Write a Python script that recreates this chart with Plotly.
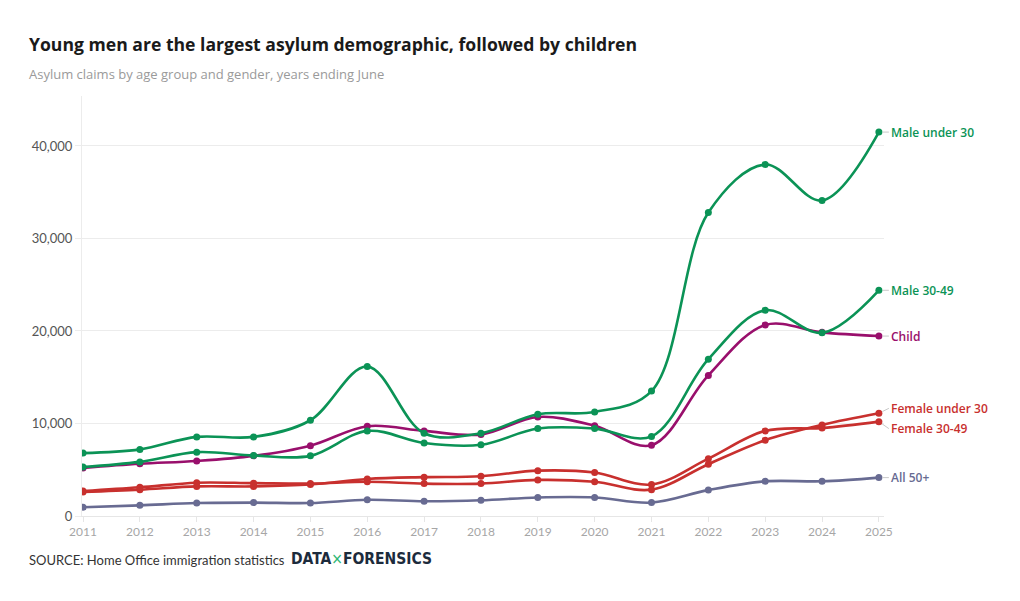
import plotly.graph_objects as go

years = list(range(2011, 2026))

male_under_30 = [6800, 7200, 8550, 8550, 10350, 16150, 8950, 8950, 11000, 11250, 13500, 32800, 38000, 34100, 41500]
male_30_49 = [5300, 5850, 6900, 6550, 6500, 9200, 7900, 7700, 9450, 9450, 8600, 16950, 22250, 19800, 24400]
child = [5200, 5650, 5950, 6500, 7600, 9700, 9200, 8800, 10700, 9750, 7650, 15200, 20650, 19850, 19450]
female_under_30 = [2700, 3100, 3600, 3550, 3500, 3700, 3500, 3500, 3900, 3700, 2850, 5600, 8200, 9850, 11100]
female_30_49 = [2600, 2850, 3200, 3200, 3400, 4000, 4200, 4300, 4900, 4700, 3400, 6200, 9200, 9500, 10200]
all_50_plus = [950, 1150, 1400, 1450, 1400, 1750, 1600, 1700, 2000, 2000, 1450, 2800, 3750, 3750, 4150]

# name, values, colour, label vertical offset (pixels, positive = down)
series = [
    ("Male under 30", male_under_30, "#0b9356", 0),
    ("Male 30-49", male_30_49, "#0b9356", 0),
    ("Child", child, "#990f6c", 0),
    ("Female under 30", female_under_30, "#c8302e", -5),
    ("Female 30-49", female_30_49, "#c8302e", 7),
    ("All 50+", all_50_plus, "#686b92", 0),
]

LATO = "Lato"
OPEN = "Open Sans"

# reference plot area (page pixels): left 82, right 884, top 96, bottom 516.5
PL, PR, PT, PB = 82, 884, 96, 516.5
PW, PH = PR - PL, PB - PT


def px(x):
    return (x - PL) / PW


def py(y):
    return (PB - y) / PH


fig = go.Figure()
for name, vals, color, _ in reversed(series):
    fig.add_trace(go.Scatter(
        x=years, y=vals, name=name, mode="lines+markers",
        line=dict(color=color, width=2.6, shape="spline", smoothing=1),
        marker=dict(color=color, size=7),
        showlegend=False, hoverinfo="x+y+name",
    ))

annotations = []
for name, vals, color, shift in series:
    annotations.append(dict(
        x=years[-1], y=vals[-1], xref="x", yref="y",
        text=name, showarrow=True, arrowhead=0, arrowwidth=1, arrowcolor="#c8c8c8",
        ax=10, ay=shift, axref="pixel", ayref="pixel", standoff=4,
        xanchor="left", yanchor="middle",
        font=dict(family=OPEN, size=12, color=color, weight=600),
    ))

annotations += [
    dict(xref="paper", yref="paper", x=px(27), y=py(44), xanchor="left", yanchor="middle",
         text="<b>Young men are the largest asylum demographic, followed by children</b>",
         showarrow=False, font=dict(family=OPEN, size=17.6, color="#1a1a1a")),
    dict(xref="paper", yref="paper", x=px(27), y=py(74), xanchor="left", yanchor="middle",
         text="Asylum claims by age group and gender, years ending June",
         showarrow=False, font=dict(family=OPEN, size=13, color="#9a9a9a")),
    dict(xref="paper", yref="paper", x=px(27), y=py(561), xanchor="left", yanchor="middle",
         text="SOURCE: Home Office immigration statistics",
         showarrow=False, font=dict(family=LATO, size=13, color="#333333")),
    dict(xref="paper", yref="paper", x=px(289), y=py(560), xanchor="left", yanchor="middle",
         text="<span style='font-stretch:condensed'><b>DATA</b><span style='color:#2bb673'>×</span><b>FORENSICS</b></span>",
         showarrow=False, font=dict(family="DejaVu Sans Condensed, DejaVu Sans", size=15.5, color="#1c2b3c")),
]

# body has an 8px margin in the page, so the figure is 16px smaller than the window
fig.update_layout(
    width=1004, height=585,
    margin=dict(l=PL - 8, r=1004 - (PR - 8), t=PT - 8, b=585 - (PB - 8)),
    paper_bgcolor="white", plot_bgcolor="white",
    font=dict(family=LATO),
    annotations=annotations,
)

fig.update_xaxes(
    range=[2011 - 0.018, 2025 + 0.09], tickmode="array", tickvals=years,
    ticktext=[str(y) for y in years], showgrid=False, zeroline=False,
    showline=True, linecolor="#e6e6e6", linewidth=1,
    ticks="outside", ticklen=5, tickcolor="#e6e6e6",
    tickfont=dict(family=LATO, size=12, color="#a6a6a6"),
)
fig.update_yaxes(
    range=[0, 45400], tickvals=[0, 10000, 20000, 30000, 40000], tickformat=",",
    showgrid=True, gridcolor="#ececec", gridwidth=1, zeroline=False,
    showline=True, linecolor="#ececec", linewidth=1,
    ticks="outside", ticklen=6, tickcolor="#ececec",
    tickfont=dict(family=LATO, size=13, color="#555555"),
)

fig.write_html("out.html")
